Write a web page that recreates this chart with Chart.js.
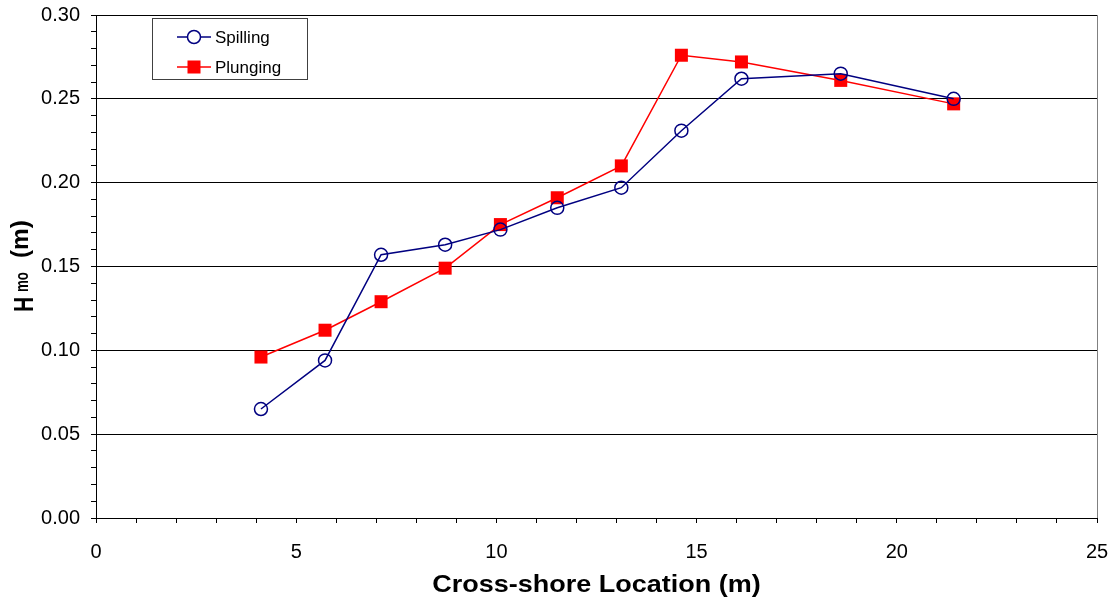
<!DOCTYPE html>
<html>
<head>
<meta charset="utf-8">
<script src="https://cdn.jsdelivr.net/npm/chart.js@4/dist/chart.umd.min.js"></script>
<style>
html,body{margin:0;padding:0;background:#fff;}
#wrap{width:1112px;height:600px;}
</style>
</head>
<body>
<div id="wrap"><canvas id="c" width="1112" height="600"></canvas></div>
<script>
const xLocations = [4.12, 5.72, 7.12, 8.72, 10.1, 11.52, 13.12, 14.62, 16.12, 18.6, 21.42];
const spilling = [0.065, 0.094, 0.157, 0.163, 0.172, 0.185, 0.197, 0.231, 0.262, 0.265, 0.250];
const plunging = [0.096, 0.112, 0.129, 0.149, 0.175, 0.191, 0.210, 0.276, 0.272, 0.261, 0.247];
const seriesNames = ['Spilling', 'Plunging'];
const xTitle = 'Cross-shore Location (m)';
const yTitleParts = ['H', 'mo', '(m)'];

const FONT = 'Arial, "Liberation Sans", sans-serif';

function drawPiece(ctx, text, font, lx, base, sx) {
  ctx.save();
  ctx.font = font;
  ctx.translate(lx, base);
  ctx.scale(sx, 1);
  ctx.fillText(text, 0, 0);
  ctx.restore();
}

const overlay = {
  id: 'overlay',
  afterDraw(chart) {
    const ctx = chart.ctx;
    const a = chart.chartArea;
    ctx.save();
    // right border
    ctx.strokeStyle = '#808080';
    ctx.lineWidth = 1;
    ctx.beginPath();
    ctx.moveTo(Math.round(a.right) + 0.5, a.top);
    ctx.lineTo(Math.round(a.right) + 0.5, a.bottom);
    ctx.stroke();

    // x title
    ctx.save();
    ctx.fillStyle = '#000';
    ctx.font = 'bold 24px ' + FONT;
    ctx.textAlign = 'center';
    ctx.textBaseline = 'alphabetic';
    ctx.translate((a.left + a.right) / 2, 592);
    ctx.scale(1.125, 1);
    ctx.fillText(xTitle, 0, 0);
    ctx.restore();

    // y title (H with subscript mo, then units)
    ctx.save();
    ctx.fillStyle = '#000';
    ctx.translate(0, 312);
    ctx.rotate(-Math.PI / 2);
    ctx.textAlign = 'left';
    ctx.textBaseline = 'alphabetic';
    drawPiece(ctx, yTitleParts[0], 'bold 27px ' + FONT, 0, 33, 0.78);
    drawPiece(ctx, yTitleParts[1], 'bold 19px ' + FONT, 20, 27.5, 0.7);
    drawPiece(ctx, yTitleParts[2], 'bold 23px ' + FONT, 54, 27.5, 1.06);
    ctx.restore();

    // legend
    const lx = 152.5, ly = 18.5, lw = 155, lh = 61;
    ctx.fillStyle = '#fff';
    ctx.fillRect(lx, ly, lw, lh);
    ctx.strokeStyle = '#404040';
    ctx.lineWidth = 1;
    ctx.strokeRect(lx, ly, lw, lh);
    const rows = [37, 67];
    chart.data.datasets.forEach((ds, i) => {
      const y = rows[i];
      ctx.strokeStyle = ds.borderColor;
      ctx.lineWidth = 1.5;
      ctx.beginPath();
      ctx.moveTo(177, y); ctx.lineTo(211, y); ctx.stroke();
      ctx.strokeStyle = ds.pointBorderColor;
      ctx.lineWidth = ds.pointBorderWidth;
      ctx.beginPath();
      if (ds.pointStyle === 'circle') {
        ctx.arc(194, y, ds.pointRadius, 0, Math.PI * 2);
        ctx.fillStyle = '#fff'; ctx.fill(); ctx.stroke();
      } else {
        const s = ds.pointRadius * Math.SQRT1_2;
        ctx.fillStyle = ds.pointBackgroundColor;
        ctx.fillRect(194 - s, y - s, 2 * s, 2 * s);
      }
      ctx.fillStyle = '#000';
      ctx.font = '17px ' + FONT;
      ctx.textAlign = 'left';
      ctx.textBaseline = 'middle';
      ctx.fillText(seriesNames[i], 215, y + 1);
    });
    ctx.restore();
  }
};

new Chart(document.getElementById('c'), {
  type: 'line',
  data: {
    datasets: [
      {
        label: seriesNames[0],
        data: xLocations.map((x, i) => ({x: x, y: spilling[i]})),
        borderColor: '#000080',
        borderWidth: 1.5,
        pointStyle: 'circle',
        pointRadius: 6.5,
        pointBorderWidth: 1.5,
        pointBorderColor: '#000080',
        pointBackgroundColor: 'rgba(255,255,255,0)',
        tension: 0
      },
      {
        label: seriesNames[1],
        data: xLocations.map((x, i) => ({x: x, y: plunging[i]})),
        borderColor: '#FF0000',
        borderWidth: 1.5,
        pointStyle: 'rect',
        pointRadius: 9.2,
        pointBorderWidth: 0,
        pointBorderColor: '#FF0000',
        pointBackgroundColor: '#FF0000',
        tension: 0
      }
    ]
  },
  options: {
    responsive: false,
    animation: false,
    layout: {padding: {top: 15, right: 15, left: 0, bottom: 0}},
    plugins: {legend: {display: false}, tooltip: {enabled: false}},
    scales: {
      x: {
        type: 'linear',
        min: 0, max: 25,
        afterFit(s) { s.height = 82; s.paddingLeft = 0; s.paddingRight = 0; },
        afterBuildTicks(s) { const t = []; for (let v = 0; v <= 25; v++) t.push({value: v}); s.ticks = t; },
        ticks: {
          autoSkip: false,
          maxRotation: 0,
          color: '#000',
          font: {family: FONT, size: 20},
          padding: 17,
          callback: (v) => (v % 5 === 0 ? String(v) : '')
        },
        grid: {
          drawOnChartArea: false,
          drawTicks: true,
          tickLength: 5,
          tickColor: '#000'
        },
        border: {display: true, color: '#000', width: 1}
      },
      y: {
        min: 0, max: 0.30,
        afterFit(s) { s.width = 96; s.paddingTop = 0; s.paddingBottom = 0; },
        afterBuildTicks(s) { const t = []; for (let k = 0; k <= 30; k++) t.push({value: k / 100}); s.ticks = t; },
        ticks: {
          autoSkip: false,
          color: '#000',
          font: {family: FONT, size: 20},
          padding: 11,
          callback: (v) => (Math.round(v * 100) % 5 === 0 ? v.toFixed(2) : '')
        },
        grid: {
          drawTicks: true,
          tickLength: 5,
          tickColor: '#000',
          color: (c) => (c.tick && Math.round(c.tick.value * 100) % 5 === 0 && c.tick.value > 0 ? '#000' : 'rgba(0,0,0,0)'),
          lineWidth: 1
        },
        border: {display: true, color: '#000', width: 1}
      }
    }
  },
  plugins: [overlay]
});
</script>
</body>
</html>
